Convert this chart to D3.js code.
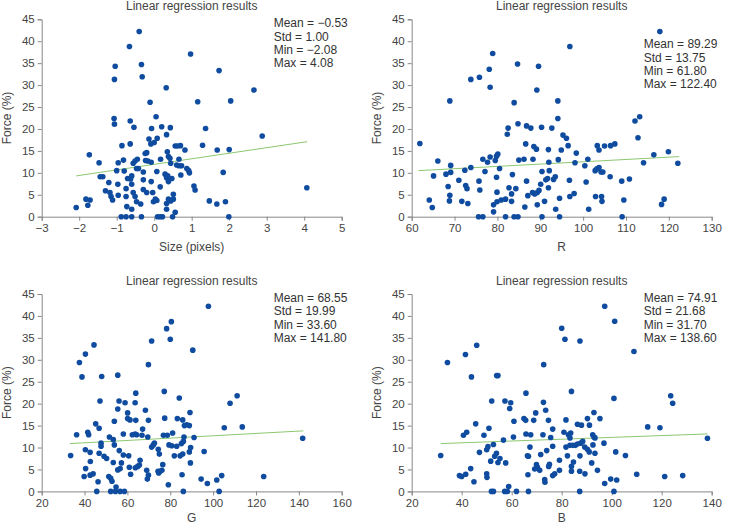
<!DOCTYPE html>
<html>
<head>
<meta charset="utf-8">
<script src="https://cdn.jsdelivr.net/npm/d3@7"></script>
<style>
  body { margin: 0; background: #fff; }
  text { font-family: "Liberation Sans", Arial, sans-serif; }
</style>
</head>
<body>
<div id="chart"></div>
<script>
// points: [x, force %]
const sizePoints = [[-2.08,2.1],[-1.82,4.0],[-1.71,3.8],[-1.77,2.6],[-1.73,14.1],[-1.47,12.3],[-1.44,9.1],[-1.37,9.1],[-1.21,7.8],[-1.30,5.9],[-1.18,5.5],[-1.15,4.6],[-1.11,3.8],[-1.04,34.3],[-1.06,31.3],[-1.07,22.4],[-1.06,21.1],[-1.0,10.5],[-0.96,12.3],[-0.97,7.4],[-0.96,4.9],[-0.86,16.2],[-0.82,12.9],[-0.80,10.4],[-0.88,0],[-0.75,0],[-0.6,0],[-0.75,6.4],[-0.75,4.6],[-0.73,2.3],[-0.66,38.8],[-0.64,21.8],[-0.64,16.6],[-0.71,8.7],[-0.63,8.6],[-0.6,9.3],[-0.6,7.4],[-0.6,1.7],[-0.56,5.5],[-0.54,20.4],[-0.56,12.2],[-0.51,12.7],[-0.51,4.6],[-0.47,3.4],[-0.45,13.1],[-0.47,11.0],[-0.42,11.0],[-0.40,42.2],[-0.34,34.7],[-0.32,31.9],[-0.36,2.9],[-0.34,0],[-0.29,10.2],[-0.29,8.4],[-0.29,6.2],[-0.24,14.4],[-0.2,14.6],[-0.23,12.8],[-0.17,12.7],[-0.2,5.5],[-0.11,26.1],[-0.14,17.7],[-0.09,16.6],[-0.07,20.1],[-0.08,12.4],[-0.08,8.0],[-0.04,5.5],[0.0,16.9],[0.05,22.8],[0.08,17.9],[0.07,10.3],[-0.02,3.4],[0.03,4.0],[0.07,3.7],[0.09,0],[0.16,0],[0.22,0],[0.17,13.1],[0.16,6.8],[0.2,20.5],[0.32,29.4],[0.33,18.7],[0.35,14.8],[0.38,13.7],[0.29,9.7],[0.33,8.9],[0.38,8.0],[0.36,9.3],[0.43,20.3],[0.42,13.3],[0.44,12.2],[0.4,8.6],[0.47,8.7],[0.33,3.0],[0.38,4.0],[0.44,3.6],[0.33,1.7],[0.49,0],[0.51,5.1],[0.51,4.0],[0.56,1.0],[0.56,16.1],[0.62,16.1],[0.70,16.2],[0.6,11.8],[0.66,13.1],[0.66,11.6],[0.73,11.6],[0.71,9.5],[0.82,15.2],[0.87,11.0],[0.92,10.5],[0.94,10.0],[0.97,37.1],[1.06,7.0],[1.09,6.1],[1.16,26.2],[1.29,16.3],[1.37,20.1],[1.47,3.6],[1.67,2.9],[1.68,15.2],[1.73,33.3],[1.84,10.1],[1.9,3.4],[1.99,0],[2.0,15.3],[2.04,26.4],[2.66,28.9],[2.88,18.4],[4.07,6.6]]

const rPoints = [[61.9,16.7],[64.1,3.8],[64.8,2.1],[65.1,9.3],[66.1,12.7],[68.0,9.7],[68.5,6.9],[68.9,26.4],[69.1,11.7],[69.1,10.1],[68.9,4.9],[68.8,3.6],[71.0,8.3],[71.7,3.5],[72.4,10.6],[72.6,7.1],[72.9,6.4],[73.1,3.0],[73.8,31.3],[73.8,11.2],[75.7,8.1],[75.9,6.1],[75.6,0],[76.6,0],[75.8,31.8],[76.6,13.1],[77.1,10.3],[77.7,12.4],[78.1,33.6],[78.3,29.5],[78.3,13.6],[78.9,37.2],[79.1,2.7],[79.1,1.1],[79.5,12.8],[79.8,13.8],[80.1,14.3],[79.8,9.0],[79.9,5.6],[79.9,3.4],[80.5,11.0],[80.9,3.8],[81.9,4.0],[81.9,0],[82.3,18.8],[82.5,20.2],[82.7,6.6],[83.3,5.2],[83.3,3.5],[83.5,9.6],[83.9,26.0],[83.9,0],[84.8,0],[84.3,6.4],[84.7,34.8],[84.8,21.2],[85.0,12.9],[86.2,13.1],[86.6,16.6],[86.8,20.7],[86.4,2.2],[86.8,8.1],[87.1,4.8],[87.8,20.2],[88.3,13.1],[88.2,5.5],[88.5,16.0],[89.1,15.4],[88.7,5.2],[89.3,5.5],[89.2,28.9],[89.6,34.3],[89.3,2.7],[89.7,6.0],[90.1,7.4],[90.3,20.4],[90.4,10.3],[90.4,0],[91.0,3.5],[91.3,8.4],[91.7,8.7],[91.9,15.3],[92.0,12.4],[92.1,10.5],[91.9,6.6],[92.7,20.2],[93.1,8.5],[93.5,9.1],[93.6,1.7],[94.1,26.4],[94.1,22.4],[94.2,13.0],[94.5,4.2],[94.5,0],[94.9,15.2],[95.3,18.6],[96.1,17.9],[96.5,16.2],[96.9,38.8],[96.8,8.3],[96.9,4.6],[97.9,5.3],[98.1,12.3],[98.4,14.5],[100.4,11.6],[100.7,7.9],[101.1,13.1],[101.3,1.7],[102.8,10.5],[103.2,10.9],[102.9,4.6],[103.3,16.2],[103.7,15.2],[103.7,11.2],[104.2,10.2],[104.6,10.2],[104.3,4.6],[104.4,3.5],[105.0,16.1],[106.3,9.1],[106.4,16.2],[107.4,16.6],[109.0,8.1],[109.1,0],[109.5,3.8],[110.8,8.6],[112.1,21.8],[113.2,22.8],[112.8,18.0],[114.1,12.3],[116.5,14.1],[117.9,42.2],[118.3,2.8],[118.9,4.0],[119.9,14.8],[122.1,12.2]]

const gPoints = [[33.5,8.2],[36.3,12.9],[37.6,29.4],[38.8,26.1],[39.8,3.4],[40.4,9.5],[40.5,5.2],[40.4,31.3],[41.5,13.5],[41.9,12.9],[42.6,8.9],[42.7,6.8],[42.6,3.7],[44.0,4.0],[44.4,33.4],[45.2,15.4],[45.7,0],[46.3,2.2],[46.8,8.7],[46.8,14.4],[47.2,20.6],[47.7,11.0],[47.7,10.3],[48.0,26.2],[49.1,8.0],[50.3,7.5],[51.6,12.4],[51.3,3.4],[52.2,3.0],[52.8,2.3],[52.2,0],[53.4,11.8],[53.9,16.0],[53.9,10.6],[53.4,6.6],[54.7,1.0],[54.4,0],[56.6,0],[58.6,0],[55.5,18.8],[55.5,26.5],[56.1,20.6],[55.5,4.9],[56.6,5.2],[56.2,9.3],[57.2,6.5],[58.1,8.3],[58.1,13.1],[58.9,20.2],[60.1,17.9],[60.1,16.6],[61.2,16.3],[60.6,8.1],[60.9,5.5],[61.5,3.9],[62.3,12.9],[63.6,13.1],[64.3,12.9],[63.6,20.2],[63.9,22.4],[63.9,16.2],[63.7,5.4],[64.8,5.7],[65.6,6.0],[65.9,7.1],[67.1,14.2],[66.8,12.8],[68.4,18.5],[69.0,4.8],[69.5,12.4],[69.8,16.2],[69.8,28.9],[69.3,2.8],[69.8,3.7],[71.3,34.3],[71.3,10.1],[72.1,10.6],[72.6,11.0],[74.4,9.6],[74.9,8.5],[74.3,4.6],[75.2,4.6],[76.1,4.8],[74.6,4.2],[76.5,6.1],[77.2,22.8],[77.4,16.7],[76.8,12.8],[78.6,12.8],[78.3,37.1],[80.5,38.7],[80.0,34.7],[79.1,1.5],[79.4,10.6],[80.7,10.4],[81.1,13.3],[81.9,8.1],[83.0,10.3],[83.3,16.6],[84.2,21.3],[84.6,8.1],[85.8,8.5],[85.2,10.9],[86.1,11.4],[85.8,16.3],[86.6,15.0],[85.5,3.8],[86.1,0],[86.4,12.4],[87.7,15.2],[88.9,15.0],[89.2,18.0],[88.9,9.0],[89.5,10.0],[89.4,6.5],[90.5,32.2],[91.1,12.3],[94.4,2.8],[95.8,9.1],[97.3,1.8],[97.8,42.2],[101.7,2.6],[102.8,0],[104.0,3.6],[105.2,14.5],[107.9,20.1],[111.2,21.8],[113.6,14.7],[123.6,3.4],[141.8,12.1]]

const bPoints = [[31.6,8.2],[34.3,29.4],[39.1,3.6],[40.0,3.4],[41.6,3.9],[40.7,12.8],[42.0,13.5],[41.5,31.2],[43.6,5.2],[43.9,26.1],[44.9,2.2],[45.6,15.4],[46.0,33.3],[47.1,8.9],[48.9,12.8],[50.0,9.5],[50.5,10.2],[50.0,4.0],[50.1,3.2],[50.9,14.4],[51.6,6.9],[51.9,0],[52.7,0],[52.0,20.6],[52.7,10.7],[53.2,8.0],[53.9,8.7],[54.5,6.6],[55.3,7.5],[54.0,26.4],[54.5,26.4],[56.7,11.7],[57.3,20.6],[57.6,6.5],[57.2,0],[58.3,0],[58.8,1.1],[59.2,18.9],[59.6,20.2],[60.9,16.0],[60.7,12.4],[61.9,0],[64.9,16.6],[65.6,16.2],[65.7,22.4],[65.7,13.1],[66.3,8.1],[66.7,8.0],[66.5,3.8],[66.7,0],[67.3,10.1],[67.6,12.9],[68.8,16.2],[69.6,17.9],[69.2,5.1],[69.9,6.1],[70.3,5.5],[71.2,4.8],[71.6,8.4],[72.7,20.3],[72.8,28.9],[72.5,12.9],[73.2,2.7],[73.3,2.1],[73.6,18.5],[74.0,9.3],[74.7,16.2],[74.8,5.7],[75.1,6.2],[75.6,12.3],[76.4,14.2],[76.4,10.3],[76.4,3.6],[77.2,4.0],[79.1,4.8],[79.1,7.1],[80.0,37.2],[80.9,13.5],[81.3,34.7],[81.7,16.3],[81.7,10.1],[82.3,8.1],[82.7,12.9],[83.6,13.3],[83.3,12.2],[83.3,10.5],[84.5,10.5],[85.5,10.5],[86.3,10.8],[83.9,22.8],[83.9,5.7],[83.9,4.6],[84.7,6.7],[86.3,15.3],[87.9,15.1],[87.6,11.0],[88.4,11.4],[87.3,34.3],[87.3,8.1],[87.2,4.6],[87.2,0],[89.3,4.0],[89.2,10.1],[90.3,9.6],[91.0,9.0],[90.3,16.6],[91.1,15.1],[92.0,6.5],[92.4,12.9],[92.9,12.4],[93.3,12.2],[92.5,10.6],[92.9,18.0],[93.3,8.7],[94.3,4.8],[95.3,16.6],[97.2,42.2],[96.9,11.0],[97.2,1.8],[99.6,2.8],[100.9,0],[100.9,21.2],[101.2,38.8],[101.6,9.0],[102.0,2.6],[105.5,8.2],[108.9,31.9],[110.0,3.9],[114.4,14.7],[119.3,14.5],[123.6,21.8],[124.4,20.1],[121.2,3.4],[128.4,3.6],[138.3,12.1]]

// fitted line ends as drawn: [[x0, y0], [x1, y1]]
const sizeFit = [[-2.08, 9.3], [4.08, 17.1]]
const rFit = [[61.6, 10.5], [122.4, 13.7]]
const gFit = [[33.2, 10.9], [142.1, 13.8]]
const bFit = [[31.6, 10.9], [138.3, 13.1]]

const sizeTicks = [-3, -2, -1, 0, 1, 2, 3, 4, 5]
const rTicks = [60, 70, 80, 90, 100, 110, 120, 130]
const gTicks = [20, 40, 60, 80, 100, 120, 140, 160]
const bTicks = [20, 40, 60, 80, 100, 120, 140]
const forceTicks = [0, 5, 10, 15, 20, 25, 30, 35, 40, 45]

const sizeStats = ["Mean = \u22120.53", "Std = 1.00", "Min = \u22122.08", "Max = 4.08"]
const rStats = ["Mean = 89.29", "Std = 13.75", "Min = 61.80", "Max = 122.40"]
const gStats = ["Mean = 68.55", "Std = 19.99", "Min = 33.60", "Max = 141.80"]
const bStats = ["Mean = 74.91", "Std = 21.68", "Min = 31.70", "Max = 138.60"]

const width = 729
const height = 526
const plotW = 300
const plotH = 197.4
const dotColor = "#0f4c9f"
const fitColor = "#8cc870"
const textColor = "#444"
const axisColor = "#888"

const panels = [
    { pts: sizePoints, fit: sizeFit, ticks: sizeTicks, label: "Size (pixels)", stats: sizeStats, left: 41.7, top: 19.3, statDy: 5, labelDy: 31.5 },
    { pts: rPoints, fit: rFit, ticks: rTicks, label: "R", stats: rStats, left: 411.7, top: 19.3, statDy: 26, labelDy: 31.5 },
    { pts: gPoints, fit: gFit, ticks: gTicks, label: "G", stats: gStats, left: 41.7, top: 294, statDy: 5, labelDy: 27.5 },
    { pts: bPoints, fit: bFit, ticks: bTicks, label: "B", stats: bStats, left: 411.7, top: 294, statDy: 5, labelDy: 27.5 }
]

const fmt = d => d < 0 ? "\u2212" + Math.abs(d) : String(d)

const svg = d3.select("#chart")
    .append("svg")
    .attr("width", width)
    .attr("height", height)

panels.forEach(p => {
    const g = svg.append("g")
        .attr("transform", `translate(${p.left}, ${p.top})`)

    const x = d3.scaleLinear()
        .domain(d3.extent(p.ticks))
        .range([0, plotW])
    const y = d3.scaleLinear()
        .domain([0, 45])
        .range([plotH, 0])

    const xAxis = g.append("g")
        .attr("transform", `translate(0, ${plotH})`)
        .call(d3.axisBottom(x).tickValues(p.ticks).tickFormat(fmt).tickSize(4).tickPadding(3))
    const yAxis = g.append("g")
        .call(d3.axisLeft(y).tickValues(forceTicks).tickSize(4).tickPadding(3))

    ;[xAxis, yAxis].forEach(a => {
        a.select(".domain").attr("stroke", axisColor)
        a.selectAll(".tick line").attr("stroke", axisColor)
        a.selectAll(".tick text")
            .attr("fill", textColor)
            .style("font-size", "11.5px")
            .style("font-family", '"Liberation Sans", Arial, sans-serif')
    })

    // regression line
    g.append("line")
        .attr("x1", x(p.fit[0][0])).attr("y1", y(p.fit[0][1]))
        .attr("x2", x(p.fit[1][0])).attr("y2", y(p.fit[1][1]))
        .attr("stroke", fitColor)
        .attr("stroke-width", 1)

    g.selectAll("circle")
        .data(p.pts)
        .enter()
        .append("circle")
            .attr("cx", d => x(d[0]))
            .attr("cy", d => y(d[1]))
            .attr("r", 2.8)
            .attr("fill", dotColor)

    g.append("text")
        .attr("x", plotW / 2)
        .attr("y", -12)
        .attr("text-anchor", "middle")
        .attr("dominant-baseline", "middle")
        .attr("fill", textColor)
        .style("font-size", "12px")
        .text("Linear regression results")

    g.append("text")
        .attr("x", plotW / 2)
        .attr("y", plotH + p.labelDy)
        .attr("text-anchor", "middle")
        .attr("dominant-baseline", "middle")
        .attr("fill", textColor)
        .style("font-size", "12px")
        .text(p.label)

    g.append("text")
        .attr("transform", `translate(-34, ${plotH / 2}) rotate(-90)`)
        .attr("text-anchor", "middle")
        .attr("dominant-baseline", "middle")
        .attr("fill", textColor)
        .style("font-size", "12px")
        .text("Force (%)")

    g.selectAll(".stat")
        .data(p.stats)
        .enter()
        .append("text")
            .attr("x", 232)
            .attr("y", (d, i) => p.statDy + i * 13.3)
            .attr("dominant-baseline", "middle")
            .attr("fill", "#333")
            .style("font-size", "12px")
            .text(d => d)
})
</script>
</body>
</html>
